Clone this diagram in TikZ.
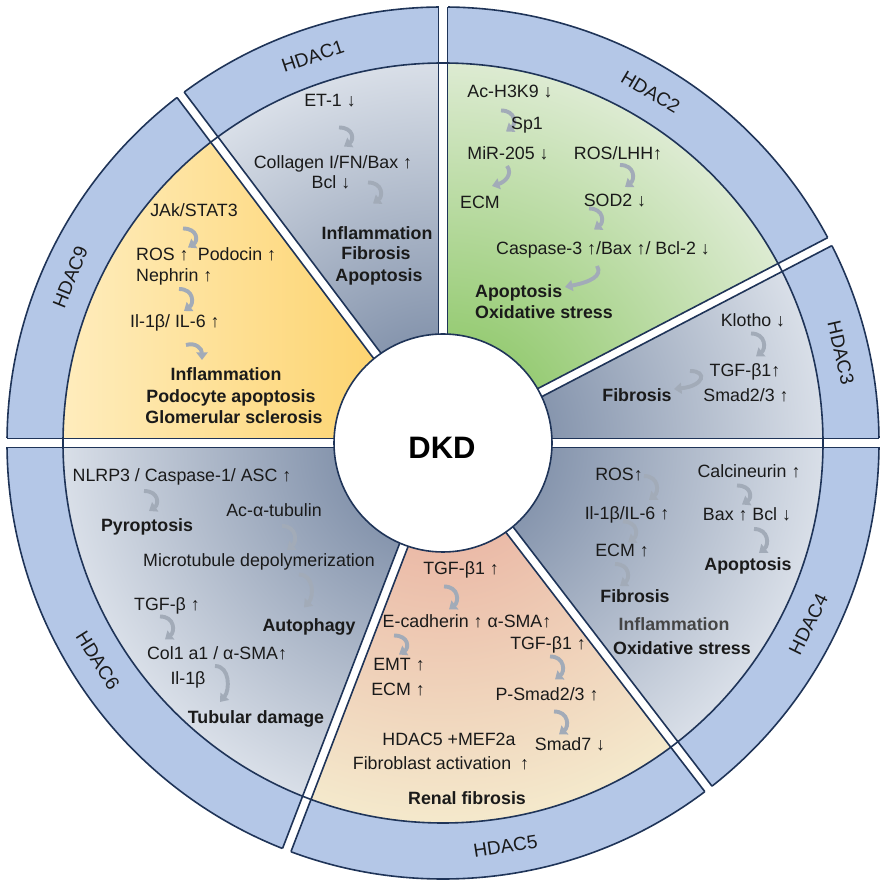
\documentclass[tikz,border=0pt]{standalone}
\usepackage{fontspec}
\setmainfont{Liberation Sans}
\usetikzlibrary{arrows.meta}
\definecolor{ringblue}{HTML}{B4C7E7}
\definecolor{navy}{HTML}{1F3458}
\definecolor{grayin}{HTML}{8796AE}
\definecolor{grayout}{HTML}{D9DFE8}
\definecolor{greenin}{HTML}{98CC76}
\definecolor{greenout}{HTML}{DDEBD2}
\definecolor{peachin}{HTML}{EBBBA8}
\definecolor{peachout}{HTML}{F4E9CC}
\definecolor{yelL}{HTML}{FFF1CB}
\definecolor{yelR}{HTML}{FDD470}
\definecolor{arrowgray}{HTML}{A2ABB8}
\definecolor{txt}{HTML}{1A1A1A}
\definecolor{infl}{HTML}{454545}
\pgfdeclareradialshading{grayshade}{\pgfpoint{0bp}{0bp}}{color(0bp)=(grayin); color(7.2bp)=(grayin); color(25bp)=(grayout); color(50bp)=(grayout)}
\pgfdeclareradialshading{greenshade}{\pgfpoint{0bp}{0bp}}{color(0bp)=(greenin); color(7.2bp)=(greenin); color(25bp)=(greenout); color(50bp)=(greenout)}
\pgfdeclareradialshading{peachshade}{\pgfpoint{0bp}{0bp}}{color(0bp)=(peachin); color(7.2bp)=(peachin); color(25bp)=(peachout); color(50bp)=(peachout)}
\newcommand{\wedgepath}[2]{(0,0) -- (#1:381pt) arc[start angle=#1, end angle=#2, radius=381pt] -- cycle}
\newcommand{\darr}[3]{\draw[carrow] ({#1-6},{#2+#3/2}) .. controls ({#1+9},{#2+#3/2}) and ({#1+9},{#2-#3/6}) .. ({#1-1},{#2-#3/2});}
\tikzset{
  carrow/.style={draw=arrowgray, line width=3.9pt, -{Triangle[length=7.5pt,width=11pt]}},
  tx/.style={font=\fontsize{17.8}{20}\selectfont, text=txt, inner sep=0pt, text height=12.8pt, text depth=3.8pt},
  bx/.style={font=\fontsize{17.8}{20}\selectfont\bfseries, text=txt, inner sep=0pt, text height=12.8pt, text depth=3.8pt},
  rl/.style={font=\fontsize{19}{21}\selectfont, text=txt, inner sep=0pt},
  border/.style={draw=navy, line width=1.6pt}
}
\begin{document}
\begin{tikzpicture}[x=1pt,y=1pt]
\useasboundingbox (0,0) rectangle (886,886);
\begin{scope}[shift={(443,443)}]
  % wedges
  \begin{scope}\clip \wedgepath{0}{27.5}; \shade[shading=grayshade] (0,0) circle[radius=381pt]; \end{scope}
  \begin{scope}\clip \wedgepath{27.5}{90}; \shade[shading=greenshade] (0,0) circle[radius=381pt]; \end{scope}
  \begin{scope}\clip \wedgepath{90}{127}; \shade[shading=grayshade] (0,0) circle[radius=381pt]; \end{scope}
  \begin{scope}\clip \wedgepath{127}{180}; \shade[left color=yelL, right color=yelR] (-438,-5) rectangle (-65,360); \end{scope}
  \begin{scope}\clip \wedgepath{180}{249}; \shade[shading=grayshade] (0,0) circle[radius=381pt]; \end{scope}
  \begin{scope}\clip \wedgepath{249}{307.5}; \shade[shading=peachshade] (0,0) circle[radius=381pt]; \end{scope}
  \begin{scope}\clip \wedgepath{307.5}{360}; \shade[shading=grayshade] (0,0) circle[radius=381pt]; \end{scope}
  % ring
  \fill[ringblue, even odd rule] (0,0) circle[radius=436pt] (0,0) circle[radius=380pt];
  \draw[border] (0,0) circle[radius=436pt];
  % gaps
  \foreach \a in {90,27.5,0,-52.5,-111,180,127} {
    \draw[white, line width=9pt] (\a:100pt) -- (\a:447pt);
    \draw[border] ([shift={(\a+90:4.5pt)}]\a:100pt) -- ([shift={(\a+90:4.5pt)}]\a:436pt);
    \draw[border] ([shift={(\a-90:4.5pt)}]\a:100pt) -- ([shift={(\a-90:4.5pt)}]\a:436pt);
  }
  \draw[border] (0,0) circle[radius=380pt];
  \draw[border, fill=white] (0,0) circle[radius=109pt];
  \node[font=\fontsize{31}{34}\selectfont\bfseries, text=black, inner sep=0pt] (dkd) at (-1,-5) {DKD};
  % ring labels
  \node[rl, rotate=18.6] (r1) at (108.6:408pt) {HDAC1};
  \node[rl, rotate=-30.6] (r2) at (59.4:408pt) {HDAC2};
  \node[rl, rotate=-77.2] (r3) at (12.8:408pt) {HDAC3};
  \node[rl, rotate=63.6] (r4) at (-26.4:408pt) {HDAC4};
  \node[rl, rotate=8.8] (r5) at (-81.2:408pt) {HDAC5};
  \node[rl, rotate=-57.8] (r6) at (-147.8:408pt) {HDAC6};
  \node[rl, rotate=68] (r9) at (156:408pt) {HDAC9};
\end{scope}
% HDAC1
\node[tx] (h1a) at (330,784) {ET-1 ↓};
\darr{345}{749}{19}
\node[tx] (h1b) at (333,722) {Collagen I/FN/Bax ↑};
\node[tx] (h1c) at (331,702) {Bcl ↓};
\darr{374}{693}{21}
\node[bx] (h1d) at (377,651) {Inflammation};
\node[bx] (h1e) at (376,631) {Fibrosis};
\node[bx] (h1f) at (379,609) {Apoptosis};
% HDAC9
\node[tx] (h9a) at (194,674) {JAk/STAT3};
\darr{189}{648}{19}
\node[tx,anchor=west] (h9b) at (136,630) {ROS ↑};
\node[tx] (h9c) at (237,630) {Podocin ↑};
\node[tx,anchor=west] (h9d) at (136,609) {Nephrin ↑};
\darr{185}{586}{22}
\node[tx,anchor=west] (h9e) at (130,563) {Il-1β/ IL-6 ↑};
\draw[carrow] (186,541) .. controls (196,544) and (202,537) .. (202,526);
\node[bx] (h9f) at (226,510) {Inflammation};
\node[bx] (h9g) at (231,488) {Podocyte apoptosis};
\node[bx] (h9h) at (234,467) {Glomerular sclerosis};
% HDAC2
\node[tx] (h2a) at (510,793) {Ac-H3K9 ↓};
\darr{507}{765}{21}
\node[tx] (h2b) at (527,761) {Sp1};
\node[tx] (h2c) at (508,731) {MiR-205 ↓};
\draw[carrow] (507,720) .. controls (513,712) and (505,704) .. (492,700);
\node[tx] (h2d) at (480,682) {ECM};
\node[tx] (h2e) at (618,731) {ROS/LHH↑};
\darr{626}{710}{22}
\node[tx] (h2f) at (615,684) {SOD2 ↓};
\darr{595}{667}{21}
\node[tx] (h2g) at (603,636) {Caspase-3 ↑/Bax ↑/ Bcl-2 ↓};
\draw[carrow] (597,620) .. controls (603,610) and (590,604) .. (565,599);
\node[bx,anchor=west] (h2h) at (475,593) {Apoptosis};
\node[bx,anchor=west] (h2i) at (475,572) {Oxidative stress};
% HDAC3
\node[tx] (h3a) at (753,564) {Klotho ↓};
\darr{757}{541}{23}
\node[tx] (h3b) at (745,514) {TGF-β1↑};
\node[tx] (h3c) at (746,489) {Smad2/3 ↑};
\node[bx] (h3d) at (637,489) {Fibrosis};
\draw[carrow] (690,515) .. controls (708,515) and (704,500) .. (674,497);
% HDAC4
\node[tx] (h4a) at (619,410) {ROS↑};
\darr{650}{398}{24}
\node[tx] (h4b) at (627,371) {Il-1β/IL-6 ↑};
\darr{629}{354}{21}
\node[tx] (h4c) at (622,334) {ECM ↑};
\darr{621}{311}{22}
\node[bx] (h4d) at (635,288) {Fibrosis};
\node[tx] (h4e) at (749,413) {Calcineurin ↑};
\darr{743}{391}{19}
\node[tx] (h4f) at (747,370) {Bax ↑ Bcl ↓};
\darr{760}{345}{24}
\node[bx] (h4g) at (748,320) {Apoptosis};
\node[bx, text=infl] (h4h) at (674,260) {Inflammation};
\node[bx] (h4i) at (682,236) {Oxidative stress};
% HDAC5
\node[tx] (h5a) at (461,316) {TGF-β1 ↑};
\darr{450}{288}{23}
\node[tx] (h5b) at (467,263) {E-cadherin ↑ α-SMA↑};
\darr{400}{241}{19}
\node[tx] (h5c) at (399,220) {EMT ↑};
\node[tx] (h5d) at (398,195) {ECM ↑};
\node[tx] (h5e) at (548,241) {TGF-β1 ↑};
\darr{556}{218}{23}
\node[tx] (h5f) at (547,190) {P-Smad2/3 ↑};
\darr{560}{163}{23}
\node[tx] (h5g) at (570,140) {Smad7 ↓};
\node[tx] (h5h) at (449,145) {HDAC5 +MEF2a};
\node[tx] (h5i) at (441,121) {Fibroblast activation\hspace{9pt}↑};
\node[bx] (h5j) at (467,86) {Renal fibrosis};
% HDAC6
\node[tx] (h6a) at (182,409) {NLRP3 / Caspase-1/ ASC ↑};
\darr{150}{385}{20}
\node[bx] (h6b) at (147,359) {Pyroptosis};
\node[tx] (h6c) at (274,374) {Ac-α-tubulin};
\darr{288}{348}{24}
\node[tx] (h6d) at (259,324) {Microtubule depolymerization};
\darr{305}{295}{33}
\node[tx] (h6e) at (167,280) {TGF-β ↑};
\darr{166}{258}{23}
\node[bx] (h6f) at (309,259) {Autophagy};
\node[tx] (h6g) at (217,231) {Col1 a1 / α-SMA↑};
\node[tx] (h6h) at (188,206) {Il-1β};
\darr{221}{202}{36}
\node[bx] (h6i) at (256,167) {Tubular damage};
\end{tikzpicture}
\end{document}
